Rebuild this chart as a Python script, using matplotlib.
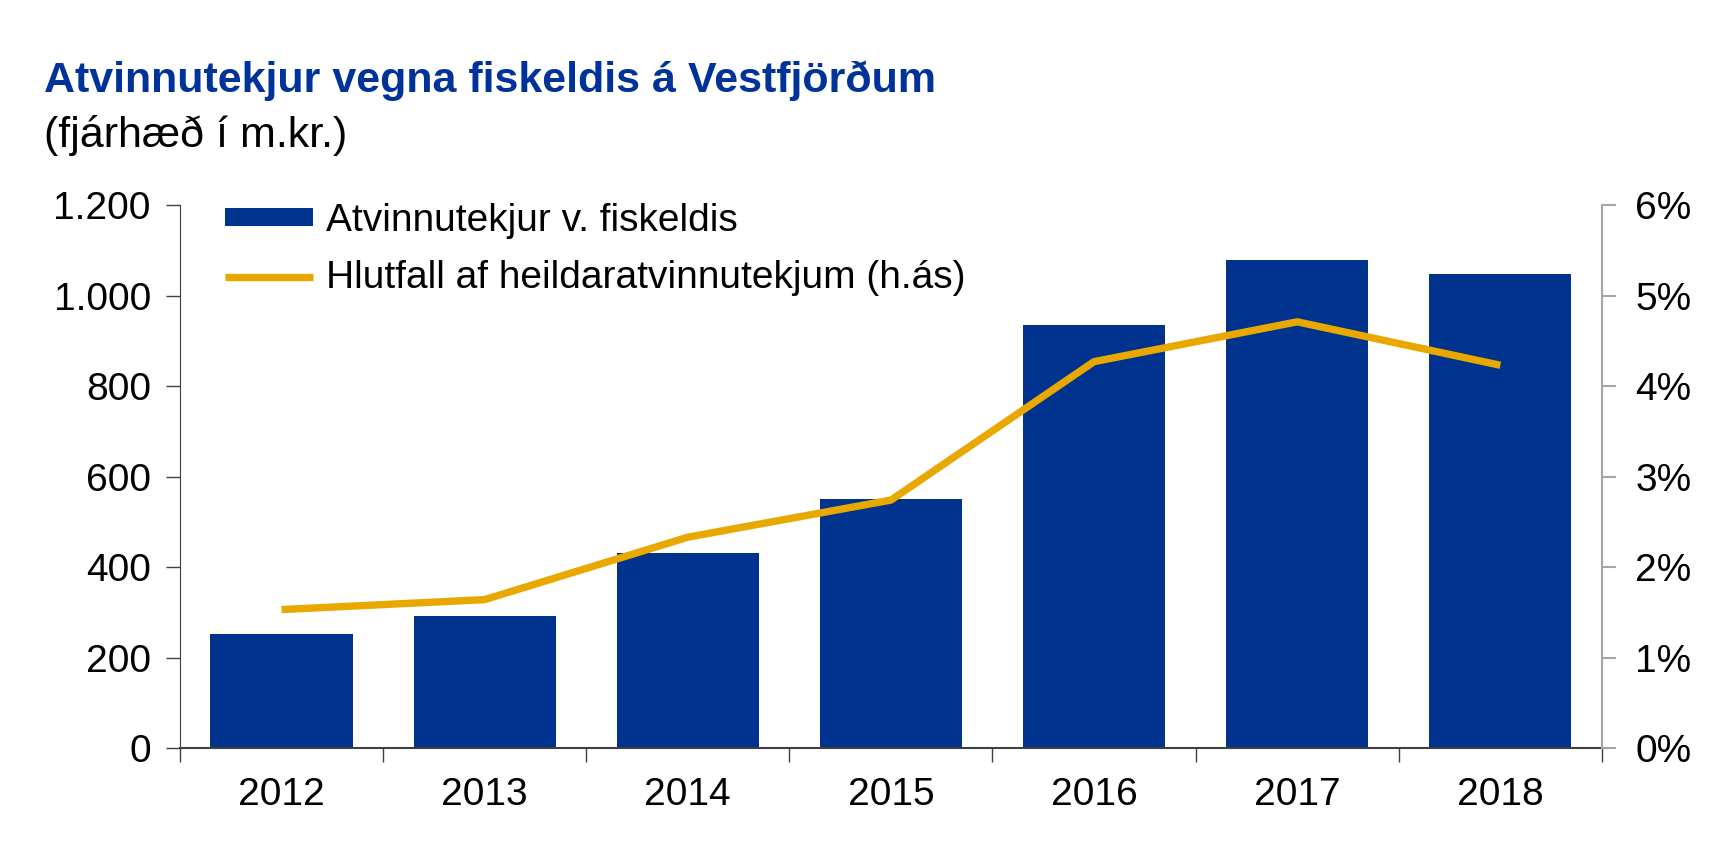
import matplotlib.pyplot as plt
import numpy as np
from matplotlib.ticker import FuncFormatter

plt.rcParams['font.family'] = ['Liberation Sans', 'DejaVu Sans']

years = ['2012', '2013', '2014', '2015', '2016', '2017', '2018']
tekjur = [252, 292, 432, 550, 935, 1078, 1048]       # m.kr.
hlutfall = [1.53, 1.64, 2.33, 2.74, 4.27, 4.71, 4.23]  # %

navy = '#00338D'
gold = '#E8A800'

fig = plt.figure(figsize=(17.35, 8.51), dpi=100)
ax = fig.add_axes([0.1037, 0.121, 0.8196, 0.638])
ax2 = ax.twinx()

x = np.arange(len(years))
ax.bar(x, tekjur, width=0.7, color=navy, label='Atvinnutekjur v. fiskeldis', zorder=2)
ax2.plot(x, hlutfall, color=gold, lw=5.3, label='Hlutfall af heildaratvinnutekjum (h.ás)',
         solid_capstyle='butt', zorder=3)

ax.set_xlim(-0.5, len(years) - 0.5)
ax.set_ylim(0, 1200)
ax.set_yticks(np.arange(0, 1201, 200))
ax.yaxis.set_major_formatter(FuncFormatter(lambda v, p: f'{int(v):,}'.replace(',', '.')))
ax2.set_ylim(0, 6)
ax2.set_yticks(np.arange(0, 7, 1))
ax2.yaxis.set_major_formatter(FuncFormatter(lambda v, p: f'{int(v)}%'))

# category labels in the middle, tick marks on the boundaries
ax.set_xticks(np.arange(-0.5, len(years), 1))
ax.set_xticklabels([])
ax.set_xticks(x, minor=True)
ax.set_xticklabels(years, minor=True)
ax.tick_params(axis='x', which='major', length=10, width=1, color='#404040', direction='out')
ax.tick_params(axis='x', which='minor', length=0, pad=21, labelsize=28)
ax.tick_params(axis='y', length=10, width=1, color='#404040', labelsize=28, pad=11)
ax2.tick_params(axis='y', length=10, width=1.5, color='#a6a6a6', labelsize=28, pad=14)

for a in (ax, ax2):
    a.spines['top'].set_visible(False)
ax.spines['right'].set_visible(False)
ax.spines['left'].set_color('#404040')
ax.spines['bottom'].set_color('#404040')
ax.spines['bottom'].set_linewidth(1.5)
ax2.spines['left'].set_visible(False)
ax2.spines['bottom'].set_visible(False)
ax2.spines['right'].set_color('#a6a6a6')
ax2.spines['right'].set_linewidth(1.5)

h1, l1 = ax.get_legend_handles_labels()
h2, l2 = ax2.get_legend_handles_labels()
ax2.legend(h1 + h2, l1 + l2, loc='upper left', bbox_to_anchor=(0.0314, 1.004), frameon=False,
           borderaxespad=0, borderpad=0, fontsize=28, handlelength=2.28, handleheight=0.32,
           handletextpad=0.34, labelspacing=0.54)

fig.text(0.0254, 0.905, 'Atvinnutekjur vegna fiskeldis á Vestfjörðum', fontsize=31,
         fontweight='bold', color='#003399', va='center')
fig.text(0.0254, 0.841, '(fjárhæð í m.kr.)', fontsize=31, color='black', va='center')

fig.savefig('out.png', dpi=100)
